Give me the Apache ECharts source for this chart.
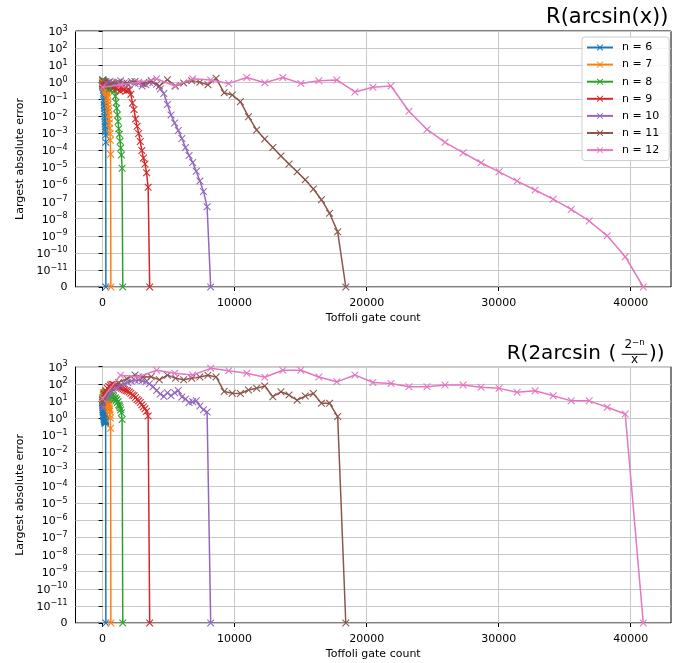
<!DOCTYPE html>
<html><head><meta charset="utf-8">
<script src="https://cdn.jsdelivr.net/npm/echarts@6/dist/echarts.min.js"></script>
<style>html,body{margin:0;padding:0;background:#fff}#c{width:699px;height:663px}</style>
</head><body><div id="c"></div>
<script>
// ---------------- data ----------------
const nValues = [6, 7, 8, 9, 10, 11, 12];
const seriesNames = ['n = 6', 'n = 7', 'n = 8', 'n = 9', 'n = 10', 'n = 11', 'n = 12'];
const colors = ['#1f77b4', '#ff7f0e', '#2ca02c', '#d62728', '#9467bd', '#8c564b', '#e377c2'];

// Toffoli gate counts (x)
const toffoli6 = [0,8,17,25,33,42,50,58,67,75,83,92,100,108,117,125,133,142,150,158,167,175,183,192,200,208,217,225,233,242,250];
const toffoli7 = [0,21,42,63,84,105,126,147,168,189,210,231,252,273,294,315,336,357,378,399,420,441,462,483,504,525,546,567,588,609,630];
const toffoli8 = [0,51,102,153,204,255,306,357,408,459,510,561,612,663,714,765,816,867,918,969,1020,1071,1122,1173,1224,1275,1326,1377,1428,1479,1530];
const toffoli9 = [0,119,238,357,476,595,714,833,952,1071,1190,1309,1428,1547,1666,1785,1904,2023,2142,2261,2380,2499,2618,2737,2856,2975,3094,3213,3332,3451,3570];
const toffoli10 = [0,273,546,819,1092,1365,1638,1911,2184,2457,2730,3003,3276,3549,3822,4095,4368,4641,4914,5187,5460,5733,6006,6279,6552,6825,7098,7371,7644,7917,8190];
const toffoli11 = [0,614,1228,1842,2456,3070,3684,4298,4912,5526,6140,6754,7368,7982,8596,9210,9824,10438,11052,11666,12280,12894,13508,14122,14736,15350,15964,16578,17192,17806,18420];
const toffoli12 = [0,1365,2730,4095,5460,6825,8190,9555,10920,12285,13650,15015,16380,17745,19110,20475,21840,23205,24570,25935,27300,28665,30030,31395,32760,34125,35490,36855,38220,39585,40950];

// Largest absolute error, R(arcsin(x))
const errArcsin6 = [1.3,0.9,1.4,0.7,1.1,0.6,0.9,0.5,0.6,0.35,0.4,0.25,0.2,0.15,0.1,0.07,0.05,0.04,0.03,0.02,0.014,0.01,7e-3,5e-3,3.5e-3,2.5e-3,1.8e-3,1.2e-3,8e-4,3e-4,0];
const errArcsin7 = [1.0,0.7,1.2,0.8,0.6,0.9,0.5,0.7,0.4,0.5,0.35,0.4,0.3,0.3,0.25,0.3,0.25,0.2,0.12,0.08,0.05,0.03,0.02,0.012,7e-3,4e-3,2e-3,1e-3,4e-4,6e-5,0];
const errArcsin8 = [0.8,1.2,0.6,1.0,0.7,1.1,0.5,0.8,0.6,0.9,0.4,0.6,0.5,0.45,0.5,0.4,0.45,0.35,0.3,0.15,0.065,0.03,0.012,5e-3,1.9e-3,9e-4,3.5e-4,1.4e-4,5.5e-5,9e-6,0];
const errArcsin9 = [0.8,1.1,0.6,0.9,1.0,0.7,0.8,0.5,0.6,0.4,0.5,0.3,0.45,0.35,0.4,0.3,0.35,0.35,0.2,0.06,0.025,7e-3,2.6e-3,1e-3,3.3e-4,1e-4,3.6e-5,1.6e-5,5e-6,7e-7,0];
const errArcsin10 = [0.6,0.9,1.1,0.8,1.0,1.2,0.9,0.7,1.1,0.8,0.9,0.6,0.7,1.0,0.95,0.75,0.4,0.22,0.05,0.012,4e-3,1.5e-3,5e-4,1.5e-4,5e-5,2e-5,6e-6,1.6e-6,4e-7,5e-8,0];
const errArcsin11 = [0.6,0.8,1.0,0.9,1.1,0.8,1.2,0.6,1.4,0.6,0.9,1.2,1.0,0.7,1.7,0.24,0.18,0.072,9.5e-3,1.6e-3,4.7e-4,1.5e-4,4.7e-5,1.6e-5,5.6e-6,1.9e-6,5.5e-7,1.3e-7,2.1e-8,1.7e-9,0];
const errArcsin12 = [0.5,0.7,1.0,1.6,0.6,1.6,1.35,0.85,1.9,0.93,1.9,0.85,1.2,1.35,0.27,0.5,0.6,0.02,1.7e-3,3e-4,7.4e-5,1.9e-5,5.6e-6,1.6e-6,4.8e-7,1.4e-7,3.5e-8,7.4e-9,1e-9,6e-11,0];

// Largest absolute error, R(2 arcsin(2^-n / x))
const errTwoArcsin6 = [8,5,6,3,4,2.5,3,2,2.5,1.5,2,1.2,1.5,1,1.3,0.8,1.1,0.7,1,0.6,0.9,0.5,0.8,0.6,0.7,0.5,0.8,0.5,0.7,0.6,0];
const errTwoArcsin7 = [10,15,20,25,30,25,30,28,25,20,22,18,15,16,12,13,10,9,8,7,6,5.5,5,4,3.5,3,2.5,1.5,1,0.25,0];
const errTwoArcsin8 = [10,15,20,25,30,35,30,30,25,28,25,22,20,18,20,15,18,14,12,15,10,12,8,9,6,5,4,3,2,0.8,0];
const errTwoArcsin9 = [12,25,40,55,70,85,95,90,80,70,65,60,55,50,45,40,38,33,28,22,20,16,12,10,8,6,4.5,3.5,2.5,1.3,0];
const errTwoArcsin10 = [4,12,25,45,60,80,100,120,140,160,165,150,130,100,67,40,25,18,30,20,30,40,17,13,8,9,10,5,3,2.2,0];
const errTwoArcsin11 = [8,60,120,200,330,250,260,170,320,210,170,210,250,320,250,35,28,27,43,54,74,17.5,34,22,11,19,27,7.2,7.2,1.2,0];
const errTwoArcsin12 = [14,320,260,620,410,330,800,580,410,240,620,620,250,130,330,120,105,67,67,85,85,62,54,32,39,20,10,10,4.2,1.7,0];

// tick labels
const xTickValues = [0, 10000, 20000, 30000, 40000];
const yTickExponents = [-11, -10, -9, -8, -7, -6, -5, -4, -3, -2, -1, 0, 1, 2, 3];
const LINTHRESH = 1e-11;

// ---------------- helpers ----------------
const FONT = 'DejaVu Sans';
function symlog(v) {
  return v >= LINTHRESH ? Math.log10(v / LINTHRESH) + 1 : v / LINTHRESH;
}
function expText(e) { return e < 0 ? '\u2212' + (-e) : String(e); }
function yLabel(val) {
  const k = Math.round(val);
  if (k === 0) return '{z|0}';
  const e = yTickExponents[k - 1];
  return '{b|10}{s|' + expText(e) + '}';
}
const X_PATH = 'path://M1,0L5,4L9,0L10,1L6,5L10,9L9,10L5,6L1,10L0,9L4,5L0,1Z';

const xsAll = [toffoli6, toffoli7, toffoli8, toffoli9, toffoli10, toffoli11, toffoli12];
const topAll = [errArcsin6, errArcsin7, errArcsin8, errArcsin9, errArcsin10, errArcsin11, errArcsin12];
const botAll = [errTwoArcsin6, errTwoArcsin7, errTwoArcsin8, errTwoArcsin9, errTwoArcsin10, errTwoArcsin11, errTwoArcsin12];

function makeSeries(k, ys, idx) {
  const c = colors[k];
  return {
    name: seriesNames[k], type: 'line', xAxisIndex: idx, yAxisIndex: idx,
    data: xsAll[k].map((x, i) => [x, symlog(ys[i])]),
    symbol: X_PATH, symbolSize: 7.5, symbolKeepAspect: true, showAllSymbol: true,
    lineStyle: { width: 1.5, color: c }, itemStyle: { color: c },
    emphasis: { disabled: true }, clip: true, z: 2 + k
  };
}
const series = [];
for (let k = 0; k < nValues.length; k++) series.push(makeSeries(k, topAll[k], 0));
for (let k = 0; k < nValues.length; k++) series.push(makeSeries(k, botAll[k], 1));

function xAxis(idx) {
  return {
    type: 'value', gridIndex: idx, min: -2050, max: 43050,
    name: 'Toffoli gate count', nameLocation: 'middle', nameGap: 26,
    nameTextStyle: { fontFamily: FONT, fontSize: 11, color: '#000' },
    axisLine: { show: false },
    axisTick: { show: true, length: 4, customValues: xTickValues, lineStyle: { color: '#000', width: 1 } },
    axisLabel: { customValues: xTickValues, margin: 11, fontFamily: FONT, fontSize: 11, color: '#000',
      formatter: v => String(Math.round(v)) },
    splitLine: { show: true, lineStyle: { color: '#c8c8c8', width: 1 } }
  };
}
function yAxis(idx) {
  return {
    type: 'value', gridIndex: idx, min: 0, max: 15, interval: 1,
    name: 'Largest absolute error', nameLocation: 'middle', nameGap: 39,
    nameTextStyle: { fontFamily: FONT, fontSize: 11, color: '#000' },
    axisLine: { show: false },
    axisTick: { show: true, length: 4, lineStyle: { color: '#000', width: 1 } },
    axisLabel: {
      margin: 8, formatter: yLabel,
      rich: {
        z: { fontFamily: FONT, fontSize: 11, color: '#000', lineHeight: 17 },
        b: { fontFamily: FONT, fontSize: 11, color: '#000', lineHeight: 13, verticalAlign: 'bottom' },
        s: { fontFamily: FONT, fontSize: 8, color: '#000', lineHeight: 12, verticalAlign: 'top' }
      }
    },
    splitLine: { show: true, lineStyle: { color: '#c8c8c8', width: 1 } }
  };
}

const option = {
  animation: false,
  backgroundColor: '#fff',
  grid: [
    { left: 75.5, top: 31, width: 595.5, height: 256, show: true, borderColor: '#000', borderWidth: 1, backgroundColor: 'transparent' },
    { left: 75.5, top: 366.7, width: 595.5, height: 256.3, show: true, borderColor: '#000', borderWidth: 1, backgroundColor: 'transparent' }
  ],
  xAxis: [xAxis(0), xAxis(1)],
  yAxis: [yAxis(0), yAxis(1)],
  legend: {
    data: seriesNames, orient: 'vertical', left: 582, top: 37,
    itemWidth: 26, itemHeight: 8, itemGap: 6.1,
    padding: [5, 10, 5, 4],
    backgroundColor: 'rgba(255,255,255,0.85)', borderColor: '#cccccc', borderWidth: 1, borderRadius: 3,
    textStyle: { fontFamily: FONT, fontSize: 11, color: '#000', padding: [0, 0, 0, 4] },
    selectedMode: false
  },
  graphic: [
    { type: 'text', z: 100, style: { text: 'R(arcsin(x))', x: 668.5, y: 18, align: 'right', verticalAlign: 'middle', font: '21px "DejaVu Sans"', fill: '#000' } },
    { type: 'text', z: 100, style: { text: 'R(2arcsin', x: 506.7, y: 353.5, align: 'left', verticalAlign: 'middle', font: '20px "DejaVu Sans"', fill: '#000' } },
    { type: 'text', z: 100, style: { text: '(', x: 608.5, y: 353.5, align: 'left', verticalAlign: 'middle', font: '20px "DejaVu Sans"', fill: '#000' } },
    { type: 'text', z: 100, style: { text: '{a|2}{e|\u2212n}', x: 634.5, y: 344.5, align: 'center', verticalAlign: 'middle',
        rich: { a: { fontFamily: FONT, fontSize: 12, lineHeight: 13, fill: '#000', color: '#000' }, e: { fontFamily: FONT, fontSize: 8.5, lineHeight: 8, verticalAlign: 'top', fill: '#000', color: '#000' } } } },
    { type: 'line', z: 100, shape: { x1: 621.7, y1: 354.3, x2: 647.3, y2: 354.3 }, style: { stroke: '#000', lineWidth: 1 } },
    { type: 'text', z: 100, style: { text: 'x', x: 634.5, y: 359.5, align: 'center', verticalAlign: 'middle', font: '12px "DejaVu Sans"', fill: '#000' } },
    { type: 'text', z: 100, style: { text: '))', x: 649, y: 353.5, align: 'left', verticalAlign: 'middle', font: '20px "DejaVu Sans"', fill: '#000' } }
  ],
  series: series
};
const chart = echarts.init(document.getElementById('c'), null, { renderer: 'canvas' });
chart.setOption(option);
</script></body></html>
